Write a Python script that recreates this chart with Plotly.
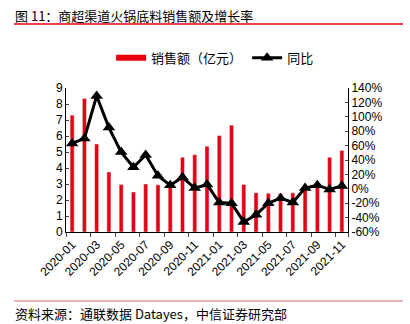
import plotly.graph_objects as go

months = ["2020-01", "2020-02", "2020-03", "2020-04", "2020-05", "2020-06",
          "2020-07", "2020-08", "2020-09", "2020-10", "2020-11", "2020-12",
          "2021-01", "2021-02", "2021-03", "2021-04", "2021-05", "2021-06",
          "2021-07", "2021-08", "2021-09", "2021-10", "2021-11"]
sales = [7.3, 8.35, 5.5, 3.75, 2.97, 2.5, 3.0, 2.95, 2.8, 4.67, 4.83, 5.36,
         6.03, 6.68, 2.97, 2.45, 2.42, 2.4, 2.45, 2.85, 2.8, 4.67, 5.1]
yoy = [63, 70, 129, 85, 51, 30, 47, 18, 5, 16, 1, 6,
       -19, -20, -46, -36, -20, -13, -19, 1, 5, -1, 4]
left_ticks = [0, 1, 2, 3, 4, 5, 6, 7, 8, 9]
right_ticks = [-60, -40, -20, 0, 20, 40, 60, 80, 100, 120, 140]
right_labels = ["-60%", "-40%", "-20%", "0%", "20%", "40%", "60%", "80%",
                "100%", "120%", "140%"]
x_labels = months[::2]

RED = "#E60012"
NUM_FONT = "Liberation Sans, Arial, sans-serif"
CJK_FONT = "Noto Sans CJK SC, sans-serif"

fig = go.Figure()
fig.add_trace(go.Bar(x=months, y=sales, name="销售额（亿元）", marker_color=RED,
                     width=0.33, showlegend=False))
fig.add_trace(go.Scatter(x=[None], y=[None], mode="lines", name="销售额（亿元）",
                         line=dict(color=RED, width=6)))
fig.add_trace(go.Scatter(x=months, y=yoy, name="同比", yaxis="y2",
                         mode="lines+markers",
                         line=dict(color="black", width=3),
                         marker=dict(symbol="triangle-up", size=11, color="black")))

fig.update_layout(
    width=410, height=324,
    margin=dict(l=66, r=62, t=88, b=92),
    paper_bgcolor="white", plot_bgcolor="white",
    font=dict(family=NUM_FONT, size=12, color="black"),
    bargap=0.6,
    xaxis=dict(type="category", tickmode="array", tickvals=x_labels, ticktext=x_labels,
               tickangle=-45, tickson="boundaries", ticks="outside", ticklen=4,
               showline=True, linecolor="black", linewidth=1, showgrid=False,
               tickfont=dict(family=NUM_FONT, size=12), range=[-0.5, 22.5]),
    yaxis=dict(range=[0, 9], tickvals=left_ticks, ticks="inside", ticklen=3,
               showline=True, linecolor="black", linewidth=1, showgrid=False,
               zeroline=False, tickfont=dict(family=NUM_FONT, size=12)),
    yaxis2=dict(range=[-60, 140], overlaying="y", side="right",
                tickvals=right_ticks, ticktext=right_labels, ticks="inside", ticklen=3,
                showline=True, linecolor="black", linewidth=1, showgrid=False,
                zeroline=False, tickfont=dict(family=NUM_FONT, size=12)),
    legend=dict(orientation="h", x=0.16, xanchor="left", y=1.21, yanchor="middle",
                font=dict(family=CJK_FONT, size=13), bgcolor="rgba(0,0,0,0)",
                itemwidth=30),
)

fig.add_annotation(text="图 11：商超渠道火锅底料销售额及增长率", xref="paper", yref="paper",
                   x=(13-66)/282, y=1 + (88-15)/144, xanchor="left", yanchor="middle",
                   showarrow=False, font=dict(family=CJK_FONT, size=13, color="black"))
fig.add_annotation(text="资料来源：通联数据 Datayes，中信证券研究部", xref="paper", yref="paper",
                   x=(13-66)/282, y=-(313-232)/144, xanchor="left", yanchor="middle",
                   showarrow=False, font=dict(family=CJK_FONT, size=13, color="black"))
fig.add_shape(type="line", xref="paper", yref="paper", x0=(14-66)/282, x1=(403-66)/282,
              y0=1 + (88-24)/144, y1=1 + (88-24)/144, line=dict(color=RED, width=1.5))
fig.add_shape(type="line", xref="paper", yref="paper", x0=(14-66)/282, x1=(403-66)/282,
              y0=-(301-232)/144, y1=-(301-232)/144, line=dict(color="#EE9999", width=1.5))

fig.write_html("out.html")
